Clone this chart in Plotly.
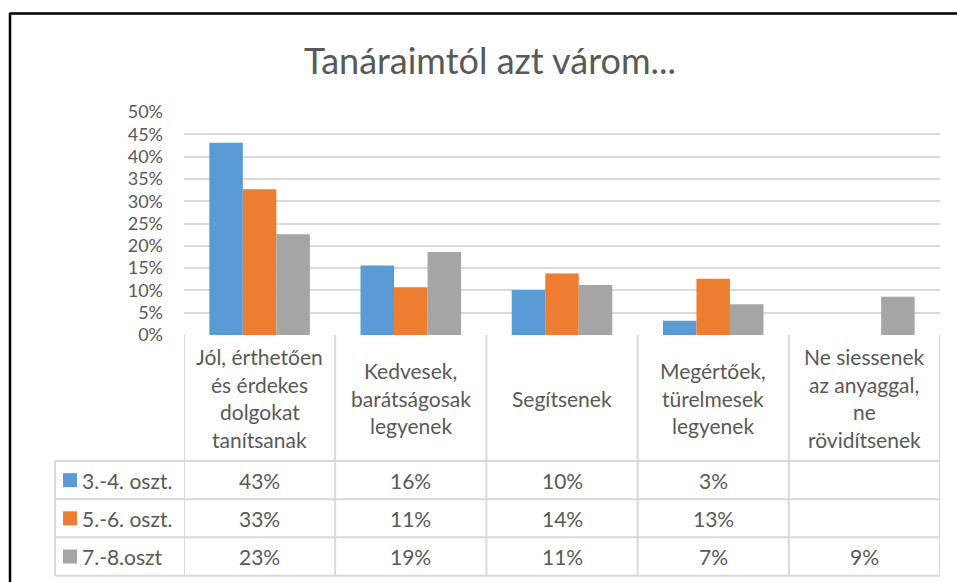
import plotly.graph_objects as go

# ---- data ----
categories = [
    "Jól, érthetően és érdekes dolgokat tanítsanak",
    "Kedvesek, barátságosak legyenek",
    "Segítsenek",
    "Megértőek, türelmesek legyenek",
    "Ne siessenek az anyaggal, ne rövidítsenek",
]
category_lines = [
    ["Jól, érthetően", "és érdekes", "dolgokat", "tanítsanak"],
    ["Kedvesek,", "barátságosak", "legyenek"],
    ["Segítsenek"],
    ["Megértőek,", "türelmesek", "legyenek"],
    ["Ne siessenek", "az anyaggal,", "ne", "rövidítsenek"],
]
series_names = ["3.-4. oszt.", "5.-6. oszt.", "7.-8.oszt"]
s34 = [43.1, 15.6, 10.1, 3.2, None]
s56 = [32.7, 10.7, 13.8, 12.6, None]
s78 = [22.6, 18.6, 11.2, 6.9, 8.6]
series_values = [s34, s56, s78]
colors = ["#5B9BD5", "#ED7D31", "#A5A5A5"]
y_ticks = list(range(0, 51, 5))
title_text = "Tanáraimtól azt várom..."

W, H = 957, 582
FONT = "Lato"
TXT = "#595959"
GRID = "#D9D9D9"


def px(x):
    return x / W


def py(y):
    return 1 - y / H


# plot-area geometry (pixels)
PL, PR, PT, PB = 184, 940, 112, 335
row_edges = [335, 461, 499.3, 537.3, 575.7]
LEG_X = 55

fig = go.Figure()
for name, vals, col in zip(series_names, series_values, colors):
    fig.add_trace(go.Bar(x=list(range(len(categories))), y=vals, name=name,
                         marker=dict(color=col, line=dict(width=0)),
                         hovertext=categories))

shapes = []
annotations = []

# title
annotations.append(dict(text=title_text, x=px(490), y=py(60), xref="paper", yref="paper",
                        showarrow=False, xanchor="center", yanchor="middle",
                        font=dict(family=FONT, size=36, color=TXT)))

# outer border (black, top & left)
shapes.append(dict(type="line", xref="paper", yref="paper", x0=px(9.5), x1=1.0,
                   y0=py(13.5), y1=py(13.5), line=dict(color="#000000", width=2.5)))
shapes.append(dict(type="line", xref="paper", yref="paper", x0=px(10), x1=px(10),
                   y0=py(13), y1=0, line=dict(color="#000000", width=2.5)))

# data table lines
n = len(categories)
for i in range(n + 1):
    shapes.append(dict(type="line", xref="x", yref="paper", x0=i - 0.5, x1=i - 0.5,
                       y0=py(row_edges[0]), y1=py(row_edges[-1]),
                       line=dict(color=GRID, width=2)))
shapes.append(dict(type="line", xref="paper", yref="paper", x0=px(LEG_X), x1=px(LEG_X),
                   y0=py(row_edges[1]), y1=py(row_edges[-1]), line=dict(color=GRID, width=2)))
for yy in row_edges[1:]:
    shapes.append(dict(type="line", xref="paper", yref="paper", x0=px(LEG_X), x1=px(PR),
                       y0=py(yy), y1=py(yy), line=dict(color=GRID, width=2)))

TS = 21
# header texts
LINE_H = 27.7
hdr_mid = (row_edges[0] + row_edges[1]) / 2
for i, lines in enumerate(category_lines):
    k = len(lines)
    for j, ln in enumerate(lines):
        yc = hdr_mid + (j - (k - 1) / 2) * LINE_H
        annotations.append(dict(text=ln, x=i, y=py(yc), xref="x", yref="paper",
                                showarrow=False, xanchor="center", yanchor="middle",
                                font=dict(family=FONT, size=TS, color=TXT)))

# legend keys & values
for r, (name, vals, col) in enumerate(zip(series_names, series_values, colors)):
    yc = (row_edges[r + 1] + row_edges[r + 2]) / 2
    shapes.append(dict(type="rect", xref="paper", yref="paper", x0=px(63), x1=px(77),
                       y0=py(yc - 7), y1=py(yc + 7), fillcolor=col, line=dict(width=0)))
    annotations.append(dict(text=name, x=px(80), y=py(yc), xref="paper", yref="paper",
                            showarrow=False, xanchor="left", yanchor="middle",
                            font=dict(family=FONT, size=TS, color=TXT)))
    for i, v in enumerate(vals):
        if v is None:
            continue
        annotations.append(dict(text=f"{v:.0f}%", x=i, y=py(yc), xref="x", yref="paper",
                                showarrow=False, xanchor="center", yanchor="middle",
                                font=dict(family=FONT, size=TS, color=TXT)))

fig.update_layout(
    template="none",
    width=W, height=H,
    margin=dict(l=0, r=0, t=0, b=0, pad=0, autoexpand=False),
    paper_bgcolor="white", plot_bgcolor="white",
    showlegend=False,
    barmode="group", bargap=0.335, bargroupgap=0,
    xaxis=dict(domain=[px(PL), px(PR)], range=[-0.5, n - 0.5], showticklabels=False,
               showgrid=False, zeroline=False, showline=False, ticks="", automargin=False),
    yaxis=dict(domain=[py(PB), py(PT)], range=[0, 50], tickvals=y_ticks,
               ticktext=[f"{t}%" for t in y_ticks], showgrid=True, gridcolor=GRID,
               gridwidth=2, zeroline=False, showline=False, ticks="",
               ticklabelstandoff=20, automargin=False,
               tickfont=dict(family=FONT, size=18, color=TXT)),
    shapes=shapes,
    annotations=annotations,
)

fig.write_html("out.html", config={"displayModeBar": False},
               post_script="document.body.style.margin='0';document.body.style.padding='0';")
